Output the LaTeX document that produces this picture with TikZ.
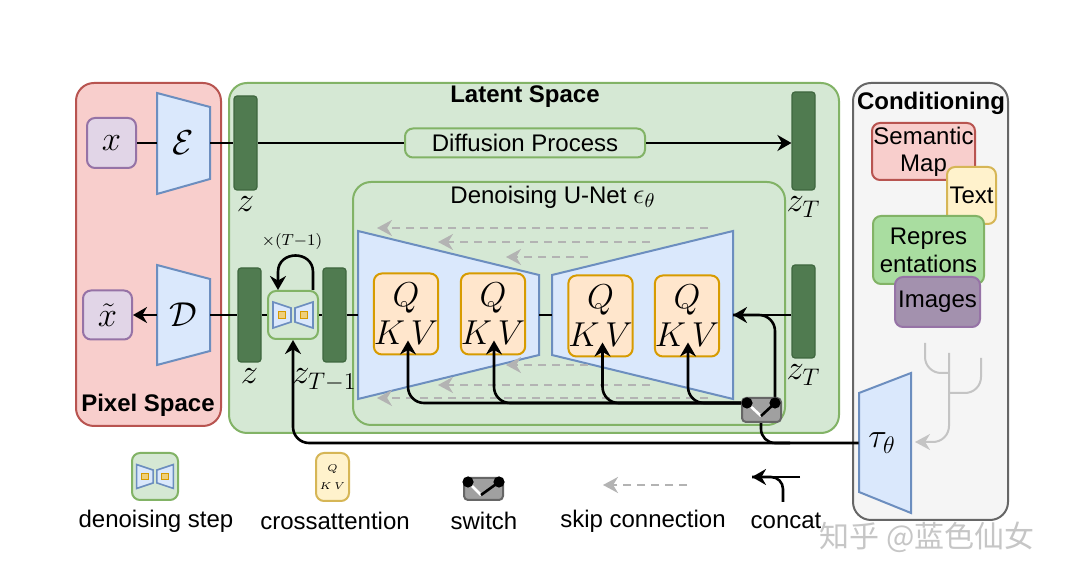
\documentclass[tikz,border=0pt]{standalone}
\usepackage{fontspec}
\setmainfont{Liberation Sans}
\newfontfamily\cjkfont{Noto Sans CJK SC}
\usepackage{tikz}
\usetikzlibrary{arrows.meta,positioning}
\definecolor{pixfill}{HTML}{F8CECC}
\definecolor{pixline}{HTML}{B85450}
\definecolor{latfill}{HTML}{D5E8D4}
\definecolor{latline}{HTML}{82B366}
\definecolor{trapfill}{HTML}{DAE8FC}
\definecolor{trapline}{HTML}{6C8EBF}
\definecolor{qkvfill}{HTML}{FFE6CC}
\definecolor{qkvline}{HTML}{D79B00}
\definecolor{yelfill}{HTML}{FFF2CC}
\definecolor{yelline}{HTML}{D6B656}
\definecolor{purfill}{HTML}{E1D5E7}
\definecolor{purline}{HTML}{9673A6}
\definecolor{confill}{HTML}{F5F5F5}
\definecolor{conline}{HTML}{666666}
\definecolor{barfill}{HTML}{507B50}
\definecolor{barline}{HTML}{3F673F}
\definecolor{repfill}{HTML}{A9DDA0}
\definecolor{imgfill}{HTML}{A391AE}
\definecolor{swfill}{HTML}{A0A0A0}
\definecolor{skipcol}{HTML}{B3B3B3}
\definecolor{branchcol}{HTML}{C4C4C4}

\tikzset{
  stepicon/.pic={
    \draw[fill=trapfill,draw=trapline,line width=0.8pt]
      (-20,-13) -- (-2,-7) -- (-2,7) -- (-20,13) -- cycle;
    \draw[fill=trapfill,draw=trapline,line width=0.8pt]
      (20,-13) -- (2,-7) -- (2,7) -- (20,13) -- cycle;
    \draw[fill=yelfill!60!qkvline,draw=qkvline,line width=0.5pt]
      (-14.5,-3.5) rectangle (-7.5,3.5);
    \draw[fill=yelfill!60!qkvline,draw=qkvline,line width=0.5pt]
      (7.5,-3.5) rectangle (14.5,3.5);
  }
}

\begin{document}
\begin{tikzpicture}[x=0.5pt,y=-0.5pt,
  font=\large,
  bigbox/.style={line width=1pt,rounded corners=9pt},
  box/.style={draw,line width=1pt,rounded corners=4pt,inner sep=0,align=center},
  bar/.style={fill=barfill,draw=barline,line width=0.6pt,rounded corners=1.5pt,
    minimum width=11.5pt,inner sep=0},
  trap/.style={fill=trapfill,draw=trapline,line width=1pt},
  conn/.style={line width=1.3pt},
  arr/.style={conn,-{Stealth[length=7pt,width=8pt]}},
  skip/.style={skipcol,line width=1pt,dash pattern=on 4pt off 3pt,
    -{Stealth[length=7.5pt,width=8pt]}},
  branch/.style={branchcol,line width=1pt,rounded corners=8pt},
  qkv/.style={box,fill=qkvfill,draw=qkvline,minimum width=31pt,minimum height=40.5pt,
    font=\fontsize{17}{19}\selectfont},
  mathlbl/.style={inner sep=0,font=\LARGE},
  title/.style={font=\large\bfseries},
  switchbox/.style={fill=swfill,draw=conline,line width=1pt,rounded corners=2pt,inner sep=0},
]
  \useasboundingbox (0,0) rectangle (1070,581);
  \fill[white] (0,0) rectangle (1070,581);

  % spaces
  \draw[bigbox,fill=pixfill,draw=pixline] (76,83) rectangle (221,426);
  \draw[bigbox,fill=latfill,draw=latline] (229,83) rectangle (839,433);
  \draw[bigbox,fill=confill,draw=conline] (853,83) rectangle (1008,520);
  \draw[bigbox,fill=latfill,draw=latline] (353,182) rectangle (785,425);

  \node[title] (pixtitle) at (148,405) {Pixel Space};
  \node[title] (lattitle) at (525,97) {Latent Space};
  \node[title] (contitle) at (931,103) {Conditioning};
  \node (unettitle) at (553,197) {Denoising U-Net {\Large$\epsilon_\theta$}};

  % encoder and diffusion
  \node[box,fill=purfill,draw=purline,minimum width=24.5pt,minimum height=25pt,font=\LARGE]
    (xin) at (111.5,143) {$x$};
  \draw[trap] (157,93) -- (210,107) -- (210,179) -- (157,194) -- cycle;
  \node[mathlbl,minimum width=26.5pt] (enc) at (183.5,143) {$\mathcal{E}$};
  \node[bar,minimum height=47pt] (za) at (245.5,143) {};
  \node[mathlbl,below=3pt of za] (zalbl) {$z$};
  \node[box,fill=latfill,draw=latline,minimum width=120pt,minimum height=14.5pt]
    (dp) at (525,143) {Diffusion Process};
  \node[bar,minimum height=49pt] (zta) at (803.5,141) {};
  \node[mathlbl,below=3pt of zta] (ztalbl) {$z_T$};

  \draw[conn] (xin) -- (enc);
  \draw[conn] (enc) -- (za);
  \draw[conn] (za) -- (dp);
  \draw[arr] (dp.east) -- (dp.east -| zta.west);

  % decoder and denoising
  \node[box,fill=purfill,draw=purline,minimum width=24.5pt,minimum height=24.5pt,font=\LARGE]
    (xout) at (107.5,315) {$\tilde{x}$};
  \draw[trap] (157,265) -- (210,279) -- (210,351) -- (157,365) -- cycle;
  \node[mathlbl,minimum width=26.5pt] (dec) at (183.5,315) {$\mathcal{D}$};
  \node[bar,minimum height=47pt] (zb) at (249.5,315) {};
  \node[mathlbl,below=3pt of zb] (zblbl) {$z$};
  \node[box,fill=latfill,draw=latline,minimum width=25pt,minimum height=24pt]
    (step) at (293,315) {};
  \pic at (step) {stepicon};
  \node[bar,minimum height=47pt] (ztm) at (334.5,315) {};
  \node[mathlbl,below=3pt of ztm,xshift=-5pt] (ztmlbl) {$z_{T-1}$};
  \node[bar,minimum height=46.5pt] (ztb) at (803.5,311.5) {};
  \node[mathlbl,below=3pt of ztb] (ztblbl) {$z_T$};

  \draw[arr] (dec) -- (xout);
  \draw[conn] (dec) -- (zb);
  \draw[conn] (zb) -- (step);
  \draw[conn] (step) -- (ztm);

  \draw[arr] ([xshift=10pt]step.north) -- (313,272)
    .. controls (313,250) and (278,250) .. (278,272) -- ([xshift=-7.5pt]step.north);
  \node[font=\footnotesize] (loop) at (292,242) {$\times(T{-}1)$};

  % U-Net
  \draw[trap] (358,231) -- (539,275) -- (539,355) -- (358,399) -- cycle;
  \draw[trap] (552,275) -- (733,231) -- (733,399) -- (552,355) -- cycle;
  \coordinate (uin) at (358,315);
  \coordinate (umidl) at (539,315);
  \coordinate (umidr) at (552,315);
  \coordinate (uout) at (733,315);
  \draw[conn] (ztm) -- (uin);
  \draw[conn] (umidl) -- (umidr);

  \draw[skip] (708,228) -- (377,228);
  \draw[skip] (650,242) -- (438,242);
  \draw[skip] (588,257) -- (506,257);
  \draw[skip] (588,365) -- (506,365);
  \draw[skip] (650,385) -- (438,385);
  \draw[skip] (708,398) -- (377,398);

  \node[qkv] (q1) at (406,314) {$Q$\\$K\,V$};
  \node[qkv] (q2) at (493,314) {$Q$\\$K\,V$};
  \node[qkv] (q3) at (600.5,316) {$Q$\\$K\,V$};
  \node[qkv] (q4) at (687,316) {$Q$\\$K\,V$};

  % conditioning
  \draw[trap] (859,393) -- (911,373) -- (911,513) -- (859,492) -- cycle;
  \node[mathlbl,minimum width=23pt] (tau) at (882,443) {$\tau_\theta$};

  \coordinate (swl) at (747,403);
  \coordinate (swr) at (775,403);
  \coordinate (swm) at (761,416);
  \coordinate (tj) at (790,443);

  \draw[arr,rounded corners=8pt] (swl) -| ([xshift=1pt,yshift=7.5pt]q1.south);
  \draw[arr,rounded corners=8pt] (swl) -| ([xshift=0.5pt,yshift=7.5pt]q2.south);
  \draw[arr,rounded corners=8pt] (swl) -| ([xshift=1pt,yshift=7.5pt]q3.south);
  \draw[arr,rounded corners=8pt] (swl) -| ([xshift=0.5pt,yshift=7.5pt]q4.south);
  \draw[conn,rounded corners=8pt] (swr) |- (uout);
  \draw[arr] (ztb.west |- uout) -- (uout);
  \draw[arr,rounded corners=8pt] (tau.west) -| (step.south);
  \draw[conn,rounded corners=7pt] (swm) |- (tj);

  \node[switchbox,minimum width=19.5pt,minimum height=12pt] (sw) at (761.5,410) {};
  \draw[white,line width=1.3pt] (swl) -- (swm);
  \draw[conn] (swm) -- (swr);
  \fill (swl) circle (2.8pt);
  \fill (swr) circle (2.8pt);

  \node[box,fill=pixfill,draw=pixline,minimum width=51.5pt,minimum height=28.5pt,
    font=\fontsize{12}{13.5}\selectfont] (sem) at (923.5,151.5) {Semantic\\Map};
  \node[box,fill=yelfill,draw=yelline,minimum width=24.5pt,minimum height=28.5pt]
    (txt) at (971.5,195.5) {Text};
  \node[box,fill=repfill,draw=latline,minimum width=55.5pt,minimum height=34pt,
    font=\fontsize{12}{14}\selectfont] (rep) at (928.5,250) {Repres\\entations};
  \node[box,fill=imgfill,draw=purline,minimum width=42.5pt,minimum height=25pt]
    (img) at (937.5,302) {Images};

  \coordinate (bl) at (925,343);
  \coordinate (bm) at (949,353);
  \coordinate (br) at (981,358);
  \coordinate (bend) at (915,442);
  \draw[branch] (bl) |- (949,373);
  \draw[branch] (br) |- (949,393);
  \draw[branch,-{Stealth[length=7.5pt,width=8pt]}] (bm) |- (bend);

  % legend
  \node[box,fill=latfill,draw=latline,minimum width=23pt,minimum height=23.5pt]
    (lstep) at (155,476.5) {};
  \pic[scale=0.92] at (lstep) {stepicon};
  \node[box,fill=yelfill,draw=yelline,minimum width=16.5pt,minimum height=24pt,
    font=\fontsize{5.5}{9}\selectfont] (lqkv) at (332.5,477) {$Q$\\$K\,V$};
  \node[switchbox,minimum width=19.5pt,minimum height=11pt] (lsw) at (483.5,489) {};
  \coordinate (lswl) at (468,482);
  \coordinate (lswr) at (499,482);
  \coordinate (lswm) at (481,495);
  \draw[white,line width=1.3pt] (lswl) -- (lswm);
  \draw[conn] (lswm) -- (lswr);
  \fill (lswl) circle (2.8pt);
  \fill (lswr) circle (2.8pt);
  \coordinate (lskipa) at (687,485);
  \coordinate (lskipb) at (603,485);
  \draw[skip] (lskipa) -- (lskipb);
  \coordinate (lcata) at (800,477);
  \coordinate (lcatb) at (752,477);
  \coordinate (lcatc) at (783,502);
  \draw[arr] (lcata) -- (lcatb);
  \draw[conn,rounded corners=6pt] (lcatc) |- (lcatb);

  \node (lsteplbl) at (156,521) {denoising step};
  \node (lqkvlbl) at (335,521) {crossattention};
  \node (lswlbl) at (484,521) {switch};
  \node (lskiplbl) at (643,521) {skip connection};
  \node (lcatlbl) at (786,521) {concat};

  \node[text=gray!45,font=\cjkfont\fontsize{15}{15}\selectfont] (mark) at (927,537)
    {知乎 @蓝色仙女};
\end{tikzpicture}
\end{document}
